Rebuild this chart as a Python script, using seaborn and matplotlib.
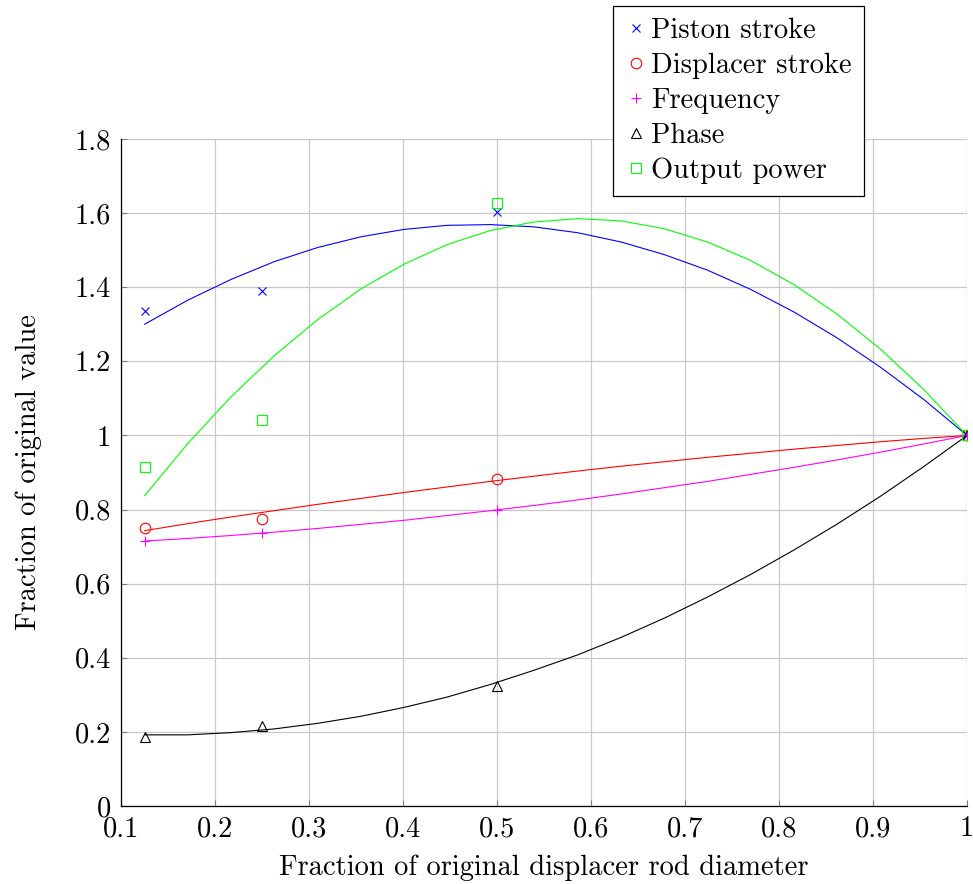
import matplotlib
matplotlib.use("Agg")
import matplotlib.pyplot as plt
from matplotlib.lines import Line2D
from matplotlib.ticker import FuncFormatter, MultipleLocator
import pandas as pd
import seaborn as sns

# Measured points: fraction of original displacer rod diameter
rod_fraction = [0.125, 0.25, 0.5, 1.0]
piston_stroke = [1.336, 1.390, 1.602, 1.0]
displacer_stroke = [0.751, 0.774, 0.883, 1.0]
frequency = [0.715, 0.737, 0.799, 1.0]
phase = [0.186, 0.217, 0.325, 1.0]
output_power = [0.916, 1.043, 1.628, 1.0]

# Fitted trend curves, sampled along the rod-diameter axis
fit_x = [0.125, 0.171, 0.217, 0.263, 0.309, 0.355, 0.401, 0.447, 0.493, 0.539,
         0.586, 0.632, 0.678, 0.724, 0.770, 0.816, 0.862, 0.908, 0.954, 1.0]
piston_fit = [1.300, 1.365, 1.421, 1.469, 1.507, 1.536, 1.556, 1.567, 1.569, 1.563,
              1.547, 1.522, 1.488, 1.446, 1.394, 1.333, 1.263, 1.184, 1.097, 1.000]
displacer_fit = [0.743, 0.762, 0.780, 0.797, 0.814, 0.830, 0.846, 0.861, 0.876, 0.890,
                 0.904, 0.917, 0.929, 0.941, 0.952, 0.963, 0.973, 0.983, 0.992, 1.000]
frequency_fit = [0.715, 0.722, 0.730, 0.739, 0.749, 0.760, 0.771, 0.784, 0.797, 0.811,
                 0.826, 0.842, 0.859, 0.876, 0.895, 0.914, 0.934, 0.955, 0.977, 1.000]
phase_fit = [0.192, 0.192, 0.198, 0.208, 0.223, 0.242, 0.266, 0.294, 0.328, 0.366,
             0.408, 0.455, 0.507, 0.564, 0.625, 0.691, 0.761, 0.836, 0.916, 1.000]
power_fit = [0.837, 0.978, 1.104, 1.215, 1.312, 1.395, 1.462, 1.515, 1.553, 1.576,
             1.585, 1.579, 1.558, 1.522, 1.472, 1.407, 1.327, 1.233, 1.124, 1.000]

x_ticks_step = 0.1
y_ticks_step = 0.2

sns.set_theme(style="white")
plt.rcParams["font.family"] = ["cmr10"]
plt.rcParams["mathtext.fontset"] = "cm"
plt.rcParams["axes.formatter.use_mathtext"] = True
plt.rcParams["axes.unicode_minus"] = False

FS = 20.5

series = [
    ("Piston stroke", piston_stroke, piston_fit, "#0000ff", "x", 6.4, False),
    ("Displacer stroke", displacer_stroke, displacer_fit, "#ff0000", "o", 7.6, True),
    ("Frequency", frequency, frequency_fit, "#ff00ff", "+", 7.0, False),
    ("Phase", phase, phase_fit, "#000000", "^", 6.6, True),
    ("Output power", output_power, power_fit, "#00ff00", "s", 7.4, True),
]

fig = plt.figure(figsize=(9.73, 8.84), dpi=100)
ax = fig.add_axes([121 / 973, 1 - 806 / 884, (967 - 121) / 973, (806 - 139) / 884])

handles = []
for label, meas, fit, color, marker, ms, hollow in series:
    fit_df = pd.DataFrame({"x": fit_x, "y": fit})
    sns.lineplot(data=fit_df, x="x", y="y", ax=ax, color=color, linewidth=0.8,
                 estimator=None, sort=False, legend=False, zorder=3)
    meas_df = pd.DataFrame({"x": rod_fraction, "y": meas})
    style = dict(marker=marker, markersize=ms, markeredgewidth=0.8,
                 markeredgecolor=color,
                 markerfacecolor="none" if hollow else color)
    sns.lineplot(data=meas_df, x="x", y="y", ax=ax, color=color, linestyle="none",
                 estimator=None, sort=False, legend=False, zorder=4, **style)
    handles.append(Line2D([], [], linestyle="none", color=color, label=label, **style))

ax.set_xlim(0.1, 1.0)
ax.set_ylim(0, 1.8)
ax.xaxis.set_major_locator(MultipleLocator(x_ticks_step))
ax.yaxis.set_major_locator(MultipleLocator(y_ticks_step))
fmt = FuncFormatter(lambda v, pos: f"{round(v, 6):g}")
ax.xaxis.set_major_formatter(fmt)
ax.yaxis.set_major_formatter(fmt)

ax.grid(True, color="#c8c8c8", linewidth=0.9)
ax.set_axisbelow(True)
for side in ("top", "right"):
    ax.spines[side].set_visible(False)
for side in ("left", "bottom"):
    ax.spines[side].set_color("#000000")
    ax.spines[side].set_linewidth(0.9)

ax.tick_params(axis="both", which="major", direction="in", length=4, width=0.8,
               color="#808080", labelsize=FS, labelcolor="black", pad=7,
               left=True, bottom=True)

ax.set_xlabel("Fraction of original displacer rod diameter", fontsize=FS,
              labelpad=9, color="black")
ax.set_ylabel("Fraction of original value", fontsize=FS, labelpad=24, color="black")

leg = fig.legend(handles=handles, loc="upper left",
                 bbox_to_anchor=(613 / 973, 1 - 6 / 884), frameon=True,
                 fancybox=False, shadow=False, framealpha=1, edgecolor="black",
                 fontsize=FS, borderpad=0.42, borderaxespad=0, handlelength=0.8,
                 handletextpad=0.12, labelspacing=0.3)
leg.get_frame().set_linewidth(0.9)
for t in leg.get_texts():
    t.set_color("black")

fig.savefig("out.png", dpi=100)
